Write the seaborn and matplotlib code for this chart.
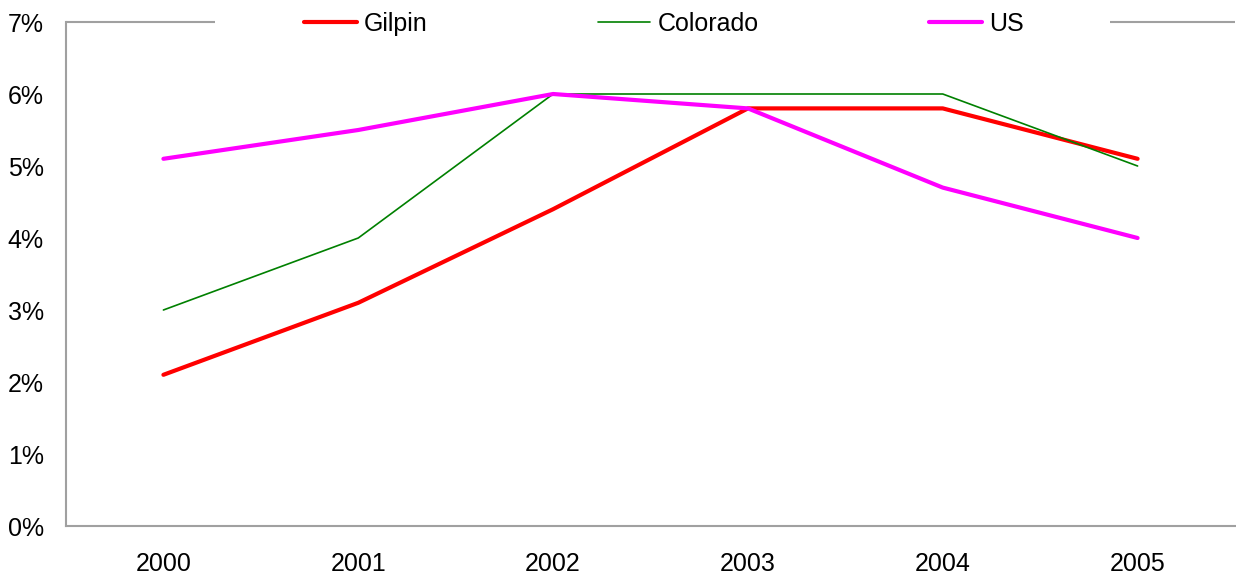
import matplotlib
matplotlib.use("Agg")
import matplotlib.pyplot as plt
import seaborn as sns
import pandas as pd
from matplotlib.ticker import FuncFormatter

years = ["2000", "2001", "2002", "2003", "2004", "2005"]
gilpin = [2.1, 3.1, 4.4, 5.8, 5.8, 5.1]
colorado = [3.0, 4.0, 6.0, 6.0, 6.0, 5.0]
us = [5.1, 5.5, 6.0, 5.8, 4.7, 4.0]

series_names = ["Gilpin", "Colorado", "US"]
series_values = [gilpin, colorado, us]
series_colors = ["#ff0000", "#008000", "#ff00ff"]
series_widths = [3.0, 1.2, 3.0]

sns.set_style("white")
plt.rcParams["font.family"] = ["Liberation Sans", "DejaVu Sans"]
plt.rcParams["text.color"] = "black"

fig = plt.figure(figsize=(12.36, 5.76), dpi=100)
ax = fig.add_axes([66 / 1236, 1 - 526 / 576, 1169 / 1236, (526 - 22) / 576])

for name, vals, col, lw in zip(series_names, series_values, series_colors, series_widths):
    df = pd.DataFrame({"year": years, "rate": vals})
    sns.lineplot(data=df, x="year", y="rate", ax=ax, color=col, linewidth=lw,
                 label=name, sort=False)

ax.set_xlim(-0.5, len(years) - 0.5)
ax.set_ylim(0, 7)
ax.set_yticks(range(0, 8))
ax.yaxis.set_major_formatter(FuncFormatter(lambda v, p: f"{v:.0f}%"))
ax.set_xlabel("")
ax.set_ylabel("")
ax.tick_params(axis="both", length=0, labelsize=18, colors="black")
ax.tick_params(axis="y", pad=16)
ax.tick_params(axis="x", pad=19)

gray = "#a0a0a0"
for side in ["left", "bottom"]:
    ax.spines[side].set_visible(True)
    ax.spines[side].set_color(gray)
    ax.spines[side].set_linewidth(1.5)
ax.spines["right"].set_visible(False)
ax.spines["top"].set_visible(False)

# top border, interrupted where the legend sits
for x0, x1 in [(0.0, (215 - 66) / 1169), ((1110 - 66) / 1169, 1.0)]:
    ax.plot([x0, x1], [1, 1], transform=ax.transAxes, color=gray, linewidth=1.5,
            clip_on=False, solid_capstyle="butt")

ax.legend(loc="center", bbox_to_anchor=(0.5115, 0.997), ncol=3, frameon=False,
          fontsize=18, handlelength=2.1, handletextpad=0.3, columnspacing=6.8,
          borderpad=0, labelcolor="black")

fig.savefig("out.png", dpi=100, facecolor="white")
